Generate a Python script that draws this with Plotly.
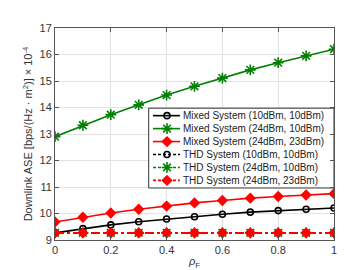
import plotly.graph_objects as go

rho = [0, 0.1, 0.2, 0.3, 0.4, 0.5, 0.6, 0.7, 0.8, 0.9, 1.0]
mixed_10_10 = [9.27, 9.43, 9.57, 9.69, 9.79, 9.88, 9.97, 10.05, 10.11, 10.16, 10.21]
mixed_24_10 = [12.9, 13.33, 13.73, 14.1, 14.47, 14.8, 15.11, 15.42, 15.69, 15.95, 16.2]
mixed_24_23 = [9.68, 9.86, 10.02, 10.16, 10.28, 10.4, 10.49, 10.58, 10.64, 10.7, 10.75]
thd_10_10 = [9.27] * 11
thd_24_10 = [9.27] * 11
thd_24_23 = [9.27] * 11

names = ["Mixed System (10dBm, 10dBm)", "Mixed System (24dBm, 10dBm)", "Mixed System (24dBm, 23dBm)",
         "THD System (10dBm, 10dBm)", "THD System (24dBm, 10dBm)", "THD System (24dBm, 23dBm)"]
series = [mixed_10_10, mixed_24_10, mixed_24_23, thd_10_10, thd_24_10, thd_24_23]
colors = ["black", "#008000", "red", "black", "#008000", "red"]
symbols = ["circle-open", "asterisk-open", "diamond", "circle-open", "asterisk-open", "diamond"]
dashes = ["solid", "solid", "solid", "dashdot", "dashdot", "dashdot"]
msizes = [6, 9, 7, 6, 9, 7]

FONT = "Liberation Sans, Arial"

fig = go.Figure()
for n, s, c, sym, d, ms in zip(names, series, colors, symbols, dashes, msizes):
    fig.add_trace(go.Scatter(
        x=rho, y=s, name=n, mode="lines+markers", showlegend=False, hoverinfo="skip",
        line=dict(color=c, width=1.6, dash=d),
        marker=dict(symbol=sym, size=ms, color=c, line=dict(color=c, width=1.6)),
    ))

# Custom compact legend drawn on an overlay axis measured in pixels
PX_L, PX_R, PX_T, PX_B = 47, 326, 20, 236
box_l, box_r, box_t, box_b = 140.7, 326, 101.7, 183
row0, row_step = 109.3, 13.2
fig.add_trace(go.Scatter(
    x=[box_l, box_r, box_r, box_l, box_l], y=[box_t, box_t, box_b, box_b, box_t],
    xaxis="x2", yaxis="y2", mode="lines", fill="toself", fillcolor="white",
    line=dict(color="#333333", width=1), showlegend=False, hoverinfo="skip"))
for i, (n, c, sym, d, ms) in enumerate(zip(names, colors, symbols, dashes, msizes)):
    yy = row0 + i * row_step
    fig.add_trace(go.Scatter(
        x=[145, 159, 172], y=[yy, yy, yy], xaxis="x2", yaxis="y2",
        mode="lines+markers", showlegend=False, hoverinfo="skip",
        line=dict(color=c, width=1.6, dash="3px,2px" if d == "dashdot" else "solid"),
        marker=dict(symbol=sym, size=[ms, ms, ms], opacity=[0, 1, 0], color=c,
                    line=dict(color=c, width=1.6))))
    fig.add_annotation(x=173, y=yy, xref="x2", yref="y2", text=n, showarrow=False,
                       xanchor="left", yanchor="middle",
                       font=dict(family=FONT, size=10, color="#222222"))

axis_common = dict(showline=True, linecolor="#555555", linewidth=1, mirror="ticks",
                   ticks="inside", ticklen=4, tickcolor="#555555",
                   showgrid=True, gridcolor="#e3e3e3", gridwidth=1, zeroline=False,
                   tickfont=dict(family=FONT, size=11, color="#333333"))

fig.update_layout(
    width=360, height=270,
    margin=dict(l=47, r=34, t=20, b=34),
    paper_bgcolor="white", plot_bgcolor="white",
    font=dict(family=FONT, size=11, color="#333333"),
    showlegend=False,
    xaxis=dict(range=[0, 1], tick0=0, dtick=0.2,
               title=dict(text="<i>ρ</i><sub>F</sub>", standoff=2, font=dict(size=11)), **axis_common),
    yaxis=dict(range=[9, 17], tick0=9, dtick=1,
               title=dict(text="Downlink ASE [bps/(Hz · m<sup>2</sup>)] × 10<sup>-4</sup>", standoff=4,
                          font=dict(size=11)), **axis_common),
    xaxis2=dict(range=[PX_L, PX_R], overlaying="x", visible=False, fixedrange=True),
    yaxis2=dict(range=[PX_B, PX_T], overlaying="y", visible=False, fixedrange=True),
)

fig.write_html("out.html")
